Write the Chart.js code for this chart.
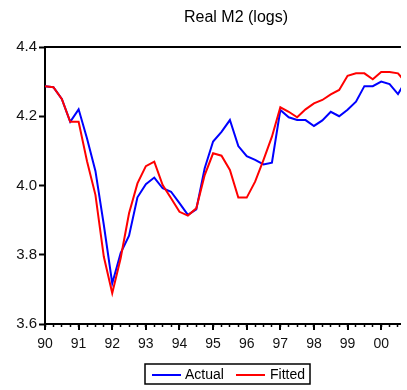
<!DOCTYPE html>
<html>
<head>
<meta charset="utf-8">
<script src="https://cdn.jsdelivr.net/npm/chart.js@4.4.1/dist/chart.umd.min.js"></script>
<style>
  html, body { margin: 0; padding: 0; background: #fff; }
</style>
</head>
<body>
<canvas id="myChart" width="407" height="390"></canvas>
<script>
// quarterly series, 1990Q1 .. 2000Q4
const actual = [
  4.287, 4.284, 4.250, 4.184, 4.220, 4.136, 4.042, 3.886, 3.717, 3.805, 3.855,
  3.966, 4.004, 4.023, 3.992, 3.982, 3.949, 3.915, 3.931, 4.050, 4.127, 4.155,
  4.189, 4.114, 4.085, 4.074, 4.061, 4.066, 4.218, 4.197, 4.189, 4.189, 4.172,
  4.188, 4.213, 4.200, 4.219, 4.242, 4.287, 4.287, 4.300, 4.293, 4.264, 4.305
];
const fitted = [
  4.287, 4.284, 4.250, 4.184, 4.184, 4.070, 3.973, 3.794, 3.689, 3.790, 3.920,
  4.006, 4.056, 4.069, 4.001, 3.963, 3.924, 3.913, 3.934, 4.030, 4.093, 4.086,
  4.045, 3.965, 3.965, 4.011, 4.074, 4.141, 4.226, 4.213, 4.197, 4.220, 4.237,
  4.247, 4.263, 4.276, 4.317, 4.324, 4.324, 4.307, 4.328, 4.328, 4.324, 4.295
];
const yearLabels = ['90', '91', '92', '93', '94', '95', '96', '97', '98', '99', '00'];
const seriesNames = ['Actual', 'Fitted'];
const seriesColors = ['#0000ff', '#ff0000'];

const FONT = 'Arial, "Liberation Sans", sans-serif';

const toPoints = arr => arr.map((v, i) => ({ x: i, y: v }));

// title, top frame line, long year ticks and the boxed legend
const decorations = {
  id: 'decorations',
  afterDraw(chart) {
    const { ctx, chartArea: { top, bottom, left, right }, scales: { x } } = chart;
    ctx.save();

    // top frame line
    ctx.strokeStyle = '#000';
    ctx.lineWidth = 2;
    ctx.beginPath();
    ctx.moveTo(left, top);
    ctx.lineTo(right, top);
    ctx.stroke();

    // longer ticks at each year
    ctx.lineWidth = 2;
    yearLabels.forEach((lbl, k) => {
      const px = Math.round(x.getPixelForValue(k * 4));
      ctx.beginPath();
      ctx.moveTo(px, bottom);
      ctx.lineTo(px, bottom + 6);
      ctx.stroke();
    });

    // title
    ctx.fillStyle = '#000';
    ctx.font = `16px ${FONT}`;
    ctx.textAlign = 'center';
    ctx.textBaseline = 'middle';
    ctx.fillText('Real M2 (logs)', 236, 18);

    // legend
    ctx.lineWidth = 1.5;
    ctx.strokeRect(145, 364, 165, 20);
    ctx.font = `14px ${FONT}`;
    ctx.textAlign = 'left';
    ctx.textBaseline = 'middle';
    const items = [[152, 185], [236, 270]];
    items.forEach(([lx, tx], i) => {
      ctx.strokeStyle = seriesColors[i];
      ctx.lineWidth = 2;
      ctx.beginPath();
      ctx.moveTo(lx, 375);
      ctx.lineTo(lx + 29, 375);
      ctx.stroke();
      ctx.fillStyle = '#000';
      ctx.fillText(seriesNames[i], tx, 375);
    });

    ctx.restore();
  }
};

const config = {
  type: 'line',
  data: {
    datasets: [
      {
        label: seriesNames[0],
        data: toPoints(actual),
        borderColor: seriesColors[0],
        borderWidth: 2,
        pointRadius: 0,
        tension: 0,
        order: 1
      },
      {
        label: seriesNames[1],
        data: toPoints(fitted),
        borderColor: seriesColors[1],
        borderWidth: 2,
        pointRadius: 0,
        tension: 0,
        order: 0
      }
    ]
  },
  options: {
    responsive: false,
    animation: false,
    devicePixelRatio: 1,
    layout: { padding: { top: 47, left: 0, right: 0, bottom: 0 } },
    plugins: {
      legend: { display: false },
      title: { display: false },
      tooltip: { enabled: false }
    },
    scales: {
      x: {
        type: 'linear',
        min: 0,
        max: 42.35,
        afterFit(scale) { scale.height = 66; },
        border: { display: true, color: '#000', width: 2 },
        grid: {
          drawOnChartArea: false,
          drawTicks: true,
          tickLength: 3,
          tickColor: '#000',
          tickWidth: 1.5
        },
        ticks: {
          stepSize: 1,
          includeBounds: false,
          autoSkip: false,
          maxRotation: 0,
          padding: 9,
          color: '#111',
          font: { family: FONT, size: 14 },
          callback: v => (v % 4 === 0 ? yearLabels[v / 4] : '')
        }
      },
      y: {
        min: 3.6,
        max: 4.4,
        afterFit(scale) { scale.width = 45; },
        border: { display: true, color: '#000', width: 2 },
        grid: {
          drawOnChartArea: false,
          drawTicks: true,
          tickLength: 6,
          tickColor: '#000',
          tickWidth: 2
        },
        ticks: {
          stepSize: 0.2,
          padding: 2,
          color: '#111',
          font: { family: FONT, size: 15 },
          callback: v => v.toFixed(1)
        }
      }
    }
  },
  plugins: [decorations]
};

const myChart = new Chart(document.getElementById('myChart'), config);
</script>
</body>
</html>
